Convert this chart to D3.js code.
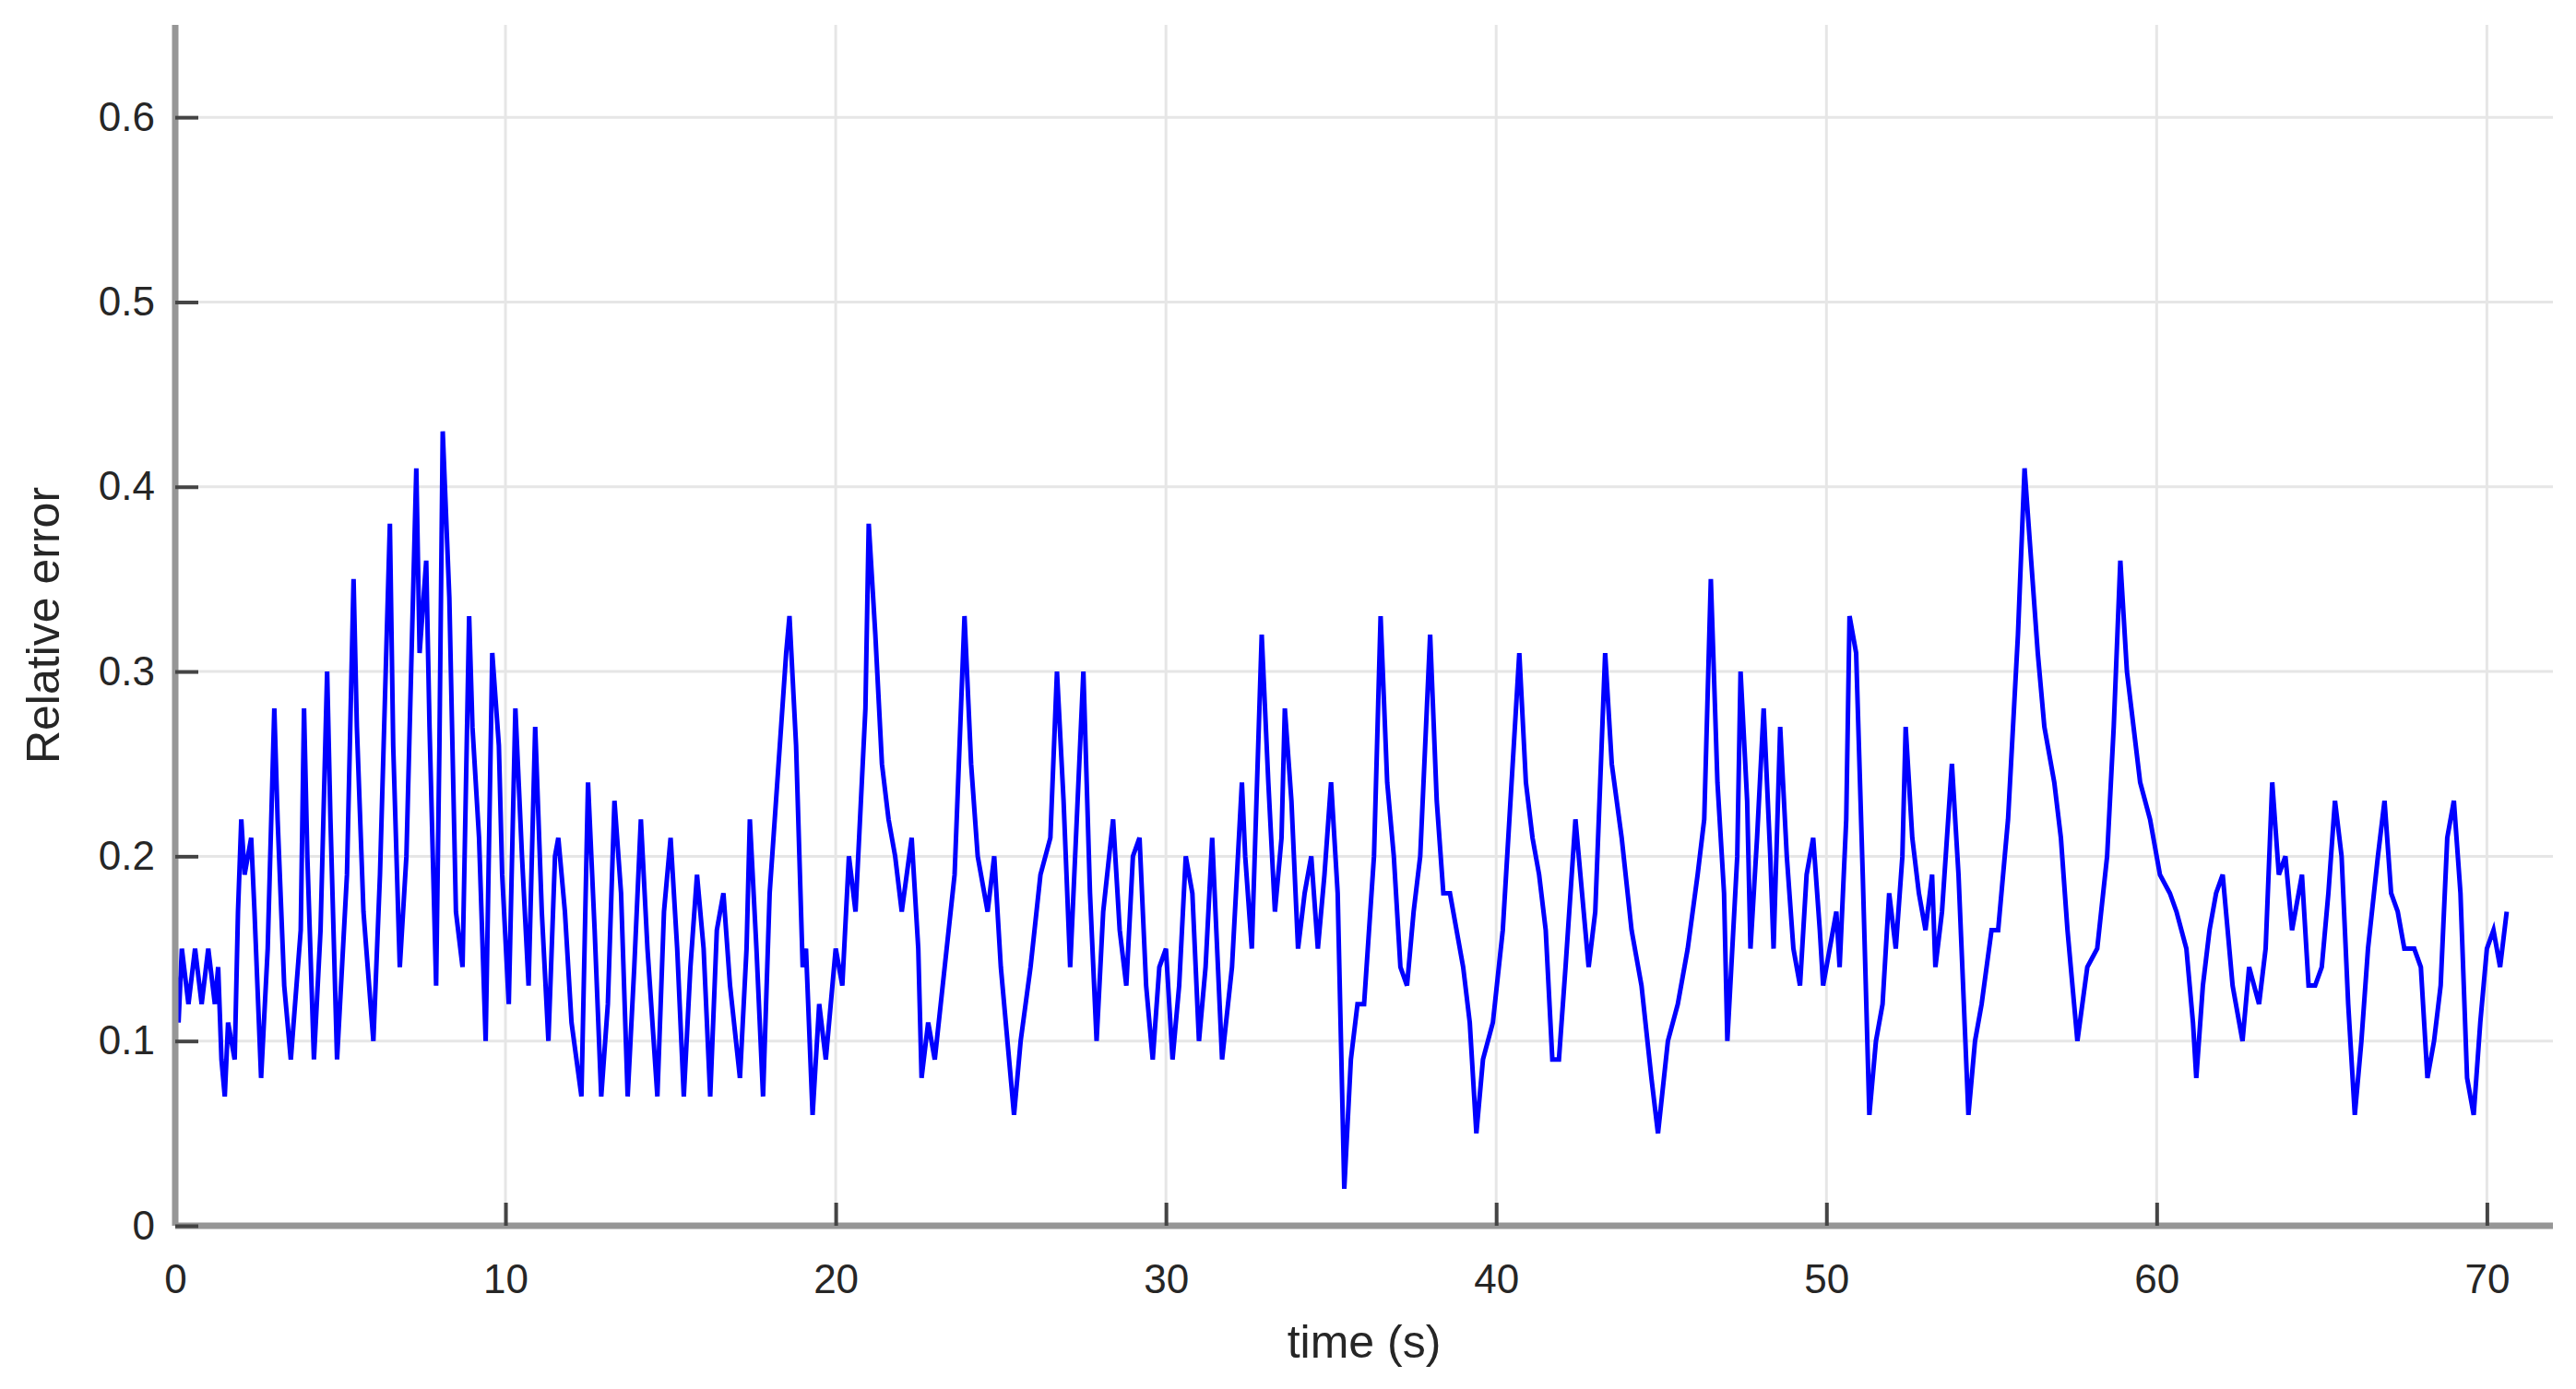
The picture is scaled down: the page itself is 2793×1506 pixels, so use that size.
<!DOCTYPE html>
<html>
<head>
<meta charset="utf-8">
<script src="https://cdn.jsdelivr.net/npm/d3@7"></script>
<style>
  body { margin: 0; background: #fff; }
  text { font-family: "Liberation Sans", Arial, sans-serif; fill: #262626; }
</style>
</head>
<body>
<svg id="chart" width="2793" height="1506"></svg>
<script>
// time samples (s) and relative error
const times = [0,0.1,0.2,0.4,0.6,0.8,1.0,1.2,1.3,1.4,1.5,1.6,1.8,1.9,2.0,2.1,2.3,2.4,2.6,2.8,3.0,3.1,3.3,3.5,3.8,3.9,4.0,4.2,4.4,4.6,4.7,4.9,5.2,5.4,5.5,5.7,6.0,6.2,6.5,6.6,6.8,7.0,7.3,7.4,7.6,7.7,7.9,8.0,8.1,8.3,8.5,8.7,8.9,9.0,9.2,9.4,9.6,9.8,9.9,10.1,10.3,10.5,10.7,10.9,11.1,11.3,11.5,11.6,11.8,12.0,12.3,12.5,12.7,12.9,13.1,13.3,13.5,13.7,13.9,14.1,14.3,14.6,14.8,15.0,15.2,15.4,15.6,15.8,16.0,16.2,16.4,16.6,16.8,17.1,17.3,17.4,17.6,17.8,18.0,18.5,18.6,18.8,19.0,19.1,19.3,19.5,19.7,20.0,20.2,20.4,20.6,20.9,21.0,21.2,21.4,21.6,21.8,22.0,22.3,22.5,22.6,22.8,23.0,23.3,23.6,23.9,24.1,24.3,24.6,24.8,25.0,25.4,25.6,25.9,26.2,26.5,26.7,26.9,27.1,27.3,27.5,27.7,27.9,28.1,28.4,28.6,28.8,29.0,29.2,29.4,29.6,29.8,30.0,30.2,30.4,30.6,30.8,31.0,31.2,31.4,31.5,31.7,32.0,32.3,32.4,32.6,32.9,33.1,33.3,33.5,33.6,33.8,34.0,34.2,34.4,34.6,34.8,35.0,35.2,35.4,35.6,35.8,36.0,36.3,36.5,36.7,36.9,37.1,37.3,37.5,37.7,38.0,38.2,38.4,38.6,38.8,39.0,39.2,39.4,39.6,39.9,40.2,40.4,40.7,40.9,41.1,41.3,41.5,41.7,41.9,42.1,42.4,42.6,42.8,43.0,43.3,43.5,43.8,44.1,44.4,44.7,44.9,45.2,45.5,45.8,46.1,46.3,46.5,46.7,46.9,47.0,47.3,47.4,47.6,47.7,47.9,48.1,48.3,48.4,48.6,48.8,49.0,49.2,49.4,49.6,49.8,49.9,50.1,50.3,50.4,50.6,50.7,50.9,51.1,51.3,51.5,51.7,51.9,52.1,52.3,52.4,52.6,52.8,53.0,53.2,53.3,53.5,53.8,54.0,54.3,54.5,54.7,55.0,55.2,55.5,55.8,56.0,56.2,56.4,56.6,56.9,57.1,57.3,57.5,57.6,57.9,58.2,58.5,58.7,58.9,59.1,59.3,59.5,59.8,60.1,60.4,60.6,60.9,61.1,61.2,61.4,61.6,61.8,62.0,62.3,62.6,62.8,63.1,63.3,63.5,63.7,63.9,64.1,64.4,64.6,64.8,65.0,65.2,65.4,65.6,65.8,66.0,66.2,66.4,66.7,66.9,67.1,67.3,67.5,67.8,68.0,68.2,68.4,68.6,68.8,69.0,69.2,69.4,69.6,69.8,70.0,70.2,70.4,70.6];
const errors = [0.14,0.11,0.15,0.12,0.15,0.12,0.15,0.12,0.14,0.09,0.07,0.11,0.09,0.17,0.22,0.19,0.21,0.17,0.08,0.15,0.28,0.22,0.13,0.09,0.16,0.28,0.2,0.09,0.16,0.30,0.22,0.09,0.19,0.35,0.27,0.17,0.10,0.19,0.38,0.26,0.14,0.2,0.41,0.31,0.36,0.27,0.13,0.26,0.43,0.34,0.17,0.14,0.33,0.27,0.21,0.10,0.31,0.26,0.19,0.12,0.28,0.2,0.13,0.27,0.17,0.10,0.20,0.21,0.17,0.11,0.07,0.24,0.16,0.07,0.12,0.23,0.18,0.07,0.14,0.22,0.15,0.07,0.17,0.21,0.15,0.07,0.14,0.19,0.15,0.07,0.16,0.18,0.13,0.08,0.15,0.22,0.15,0.07,0.18,0.31,0.33,0.26,0.14,0.15,0.06,0.12,0.09,0.15,0.13,0.20,0.17,0.28,0.38,0.32,0.25,0.22,0.20,0.17,0.21,0.15,0.08,0.11,0.09,0.14,0.19,0.33,0.25,0.2,0.17,0.20,0.14,0.06,0.10,0.14,0.19,0.21,0.30,0.23,0.14,0.22,0.30,0.18,0.10,0.17,0.22,0.16,0.13,0.20,0.21,0.13,0.09,0.14,0.15,0.09,0.13,0.20,0.18,0.10,0.14,0.21,0.17,0.09,0.14,0.24,0.20,0.15,0.32,0.24,0.17,0.21,0.28,0.23,0.15,0.18,0.2,0.15,0.19,0.24,0.18,0.02,0.09,0.12,0.12,0.2,0.33,0.24,0.20,0.14,0.13,0.17,0.20,0.32,0.23,0.18,0.18,0.16,0.14,0.11,0.05,0.09,0.11,0.16,0.22,0.31,0.24,0.21,0.19,0.16,0.09,0.09,0.14,0.22,0.18,0.14,0.17,0.31,0.25,0.21,0.16,0.13,0.08,0.05,0.10,0.12,0.15,0.19,0.22,0.35,0.24,0.18,0.10,0.20,0.30,0.23,0.15,0.21,0.28,0.20,0.15,0.27,0.20,0.15,0.13,0.19,0.21,0.16,0.13,0.15,0.17,0.14,0.22,0.33,0.31,0.19,0.06,0.10,0.12,0.18,0.15,0.20,0.27,0.21,0.18,0.16,0.19,0.14,0.17,0.25,0.19,0.06,0.10,0.12,0.16,0.16,0.22,0.32,0.41,0.36,0.31,0.27,0.24,0.21,0.16,0.12,0.10,0.14,0.15,0.20,0.27,0.36,0.30,0.27,0.24,0.22,0.19,0.18,0.17,0.15,0.11,0.08,0.13,0.16,0.18,0.19,0.13,0.10,0.14,0.12,0.15,0.24,0.19,0.2,0.16,0.19,0.13,0.13,0.14,0.18,0.23,0.20,0.12,0.06,0.10,0.15,0.20,0.23,0.18,0.17,0.15,0.15,0.14,0.08,0.10,0.13,0.21,0.23,0.18,0.08,0.06,0.11,0.15,0.16,0.14,0.17];
const xTicks = [0,10,20,30,40,50,60,70];
const yTicks = [0,0.1,0.2,0.3,0.4,0.5,0.6];

const svg = d3.select("#chart");
const pLeft = 190, pRight = 2768, pTop = 27, pBottom = 1329;

const x = d3.scaleLinear().domain([0, 72]).range([pLeft, pRight]);
const y = d3.scaleLinear().domain([0, 0.65]).range([pBottom, pTop]);

// grid
svg.append("g").selectAll("line").data(xTicks.slice(1)).join("line")
  .attr("x1", d => x(d)).attr("x2", d => x(d)).attr("y1", pTop).attr("y2", pBottom)
  .attr("stroke", "#e6e6e6").attr("stroke-width", 3);
svg.append("g").selectAll("line").data(yTicks.slice(1)).join("line")
  .attr("x1", pLeft).attr("x2", pRight).attr("y1", d => y(d)).attr("y2", d => y(d))
  .attr("stroke", "#e6e6e6").attr("stroke-width", 3);

// the data line
const n = Math.min(times.length, errors.length);
const pts = times.slice(0, n).map((t, i) => [t, errors[i]]);
svg.append("path").datum(pts)
  .attr("fill", "none").attr("stroke", "#0000ff").attr("stroke-width", 5)
  .attr("stroke-linejoin", "miter")
  .attr("d", d3.line().x(d => x(d[0])).y(d => y(d[1])));

// axes
const xAxis = svg.append("g").attr("transform", `translate(0,${pBottom})`)
  .call(d3.axisBottom(x).tickValues(xTicks).tickSize(-25).tickPadding(42).tickFormat(d3.format("d")));
const yAxis = svg.append("g").attr("transform", `translate(${pLeft},0)`)
  .call(d3.axisLeft(y).tickValues(yTicks).tickSize(-25).tickPadding(22).tickFormat(d => d === 0 ? "0" : d3.format(".1f")(d)));
[xAxis, yAxis].forEach(a => {
  a.select(".domain").attr("stroke", "#969696").attr("stroke-width", 7);
  a.selectAll(".tick line").attr("stroke", "#444").attr("stroke-width", 4);
  a.selectAll(".tick text").attr("font-size", 44).attr("fill", "#262626");
});
xAxis.select(".domain").attr("d", `M${pLeft},0H${pRight}`);
yAxis.select(".domain").attr("d", `M0,${pTop}V${pBottom}`);

// titles
svg.append("text").attr("x", x(36)).attr("y", 1472).attr("text-anchor", "middle")
  .attr("font-size", 50).text("time (s)");
svg.append("text").attr("transform", `translate(64,${y(0.325)}) rotate(-90)`)
  .attr("text-anchor", "middle").attr("font-size", 50).text("Relative error");
</script>
</body>
</html>
